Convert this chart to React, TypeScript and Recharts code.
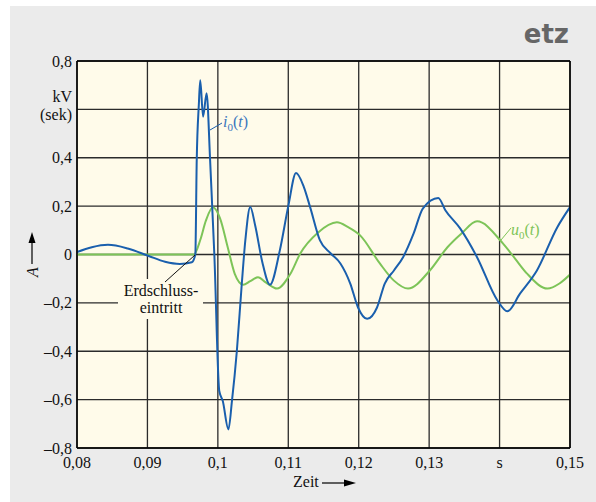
import { LineChart, Line, XAxis, YAxis, CartesianGrid } from 'recharts';

// i0(t) – Strom (blau)
const blueT = [
  0.08, 0.0821, 0.0844, 0.0872, 0.0901, 0.0925, 0.0946, 0.0963, 0.0968, 0.097,
  0.0973, 0.0975, 0.0979, 0.0984, 0.0989, 0.0992, 0.0995, 0.1002, 0.1007, 0.1015,
  0.102, 0.1027, 0.1034, 0.1039, 0.1046, 0.1053, 0.1063, 0.1074, 0.1088, 0.11,
  0.1111, 0.1122, 0.1131, 0.1145, 0.116, 0.1174, 0.1188, 0.1199, 0.1212, 0.1226,
  0.1237, 0.125, 0.1263, 0.1278, 0.1291, 0.1313, 0.1323, 0.1344, 0.1368, 0.1397,
  0.1411, 0.1429, 0.1453, 0.1482, 0.15,
];
const blueV = [
  0.01, 0.03, 0.04, 0.025, -0.005, -0.03, -0.039, -0.032, 0.0, 0.39,
  0.62, 0.72, 0.57, 0.667, 0.39, 0.196, 0.0, -0.564, -0.606, -0.723,
  -0.606, -0.398, -0.12, 0.058, 0.196, 0.12, -0.03, -0.125, 0.017, 0.2,
  0.337, 0.28, 0.196, 0.058, 0.005, -0.037, -0.12, -0.219, -0.266, -0.219,
  -0.12, -0.066, -0.011, 0.087, 0.19, 0.234, 0.183, 0.108, -0.011, -0.19,
  -0.235, -0.162, -0.066, 0.113, 0.196,
];

// u0(t) – Spannung (grün)
const greenT = [
  0.08, 0.0966, 0.0975, 0.0983, 0.0993, 0.1003, 0.1014, 0.1024, 0.1036, 0.1046,
  0.1057, 0.1068, 0.1084, 0.1103, 0.1117, 0.1142, 0.1169, 0.1185, 0.1202, 0.123,
  0.125, 0.127, 0.1301, 0.1326, 0.1346, 0.1368, 0.1405, 0.1422, 0.1439, 0.1468,
  0.1485, 0.15,
];
const greenV = [
  0, 0, 0.06, 0.14, 0.195, 0.15, 0.03, -0.08, -0.125, -0.11,
  -0.094, -0.115, -0.141, -0.08, 0.004, 0.09, 0.133, 0.113, 0.079, -0.037,
  -0.108, -0.141, -0.066, 0.03, 0.087, 0.137, 0.045, -0.017, -0.079, -0.141,
  -0.12, -0.083,
];

const xTicks = [0.08, 0.09, 0.1, 0.11, 0.12, 0.13, 0.14, 0.15];
const yTicks = [-0.8, -0.6, -0.4, -0.2, 0, 0.2, 0.4, 0.6, 0.8];

const blueData = blueT.map((t, i) => ({ t, i0: blueV[i] }));
const greenData = greenT.map((t, i) => ({ t, u0: greenV[i] }));

const serif = { fontFamily: "'Liberation Serif'" };
const BLUE = '#1a5fad';
const GREEN = '#7dc458';
const PLOT_BG = '#fffbea';

const fmt = (v: number) => {
  const s = String(+v.toFixed(2)).replace('.', ',');
  return v < 0 ? '\u2013' + s.slice(1) : s;
};

const XTick = (props: any) => {
  const { x, y, payload } = props;
  const v = payload.value;
  const label = Math.abs(v - 0.14) < 1e-9 ? 's' : fmt(v);
  return (
    <text x={x} y={y + 19.5} textAnchor="middle" style={serif} fontSize={16} fill="#111">
      {label}
    </text>
  );
};

const YTick = (props: any) => {
  const { x, y, payload } = props;
  const v = payload.value;
  if (Math.abs(v - 0.6) < 1e-9) {
    return (
      <g>
        <text x={x - 5} y={y - 7.5} textAnchor="end" style={serif} fontSize={16} fill="#111">
          kV
        </text>
        <text x={x - 5} y={y + 10.5} textAnchor="end" style={serif} fontSize={16} fill="#111">
          (sek)
        </text>
      </g>
    );
  }
  return (
    <text x={x - 5} y={y + 5.5} textAnchor="end" style={serif} fontSize={16} fill="#111">
      {fmt(v)}
    </text>
  );
};

export default function App() {
  return (
    <div style={{ position: 'absolute', left: 0, top: 0, width: 596, height: 502, background: '#fff' }}>
      <div style={{ position: 'absolute', left: 10, top: 6, width: 586, height: 496, background: '#ebebeb' }} />
      <div style={{ position: 'absolute', left: 0, top: 0 }}>
        <LineChart width={596} height={502} margin={{ top: 61, right: 26, bottom: 24, left: 17 }}>
          <CartesianGrid stroke="#2b2b2b" strokeWidth={1.3} fill={PLOT_BG} fillOpacity={1} />
          <XAxis
            dataKey="t"
            type="number"
            domain={[0.08, 0.15]}
            ticks={xTicks}
            interval={0}
            allowDataOverflow
            height={30}
            tickSize={0}
            tickMargin={0}
            tickLine={false}
            axisLine={{ stroke: '#000', strokeWidth: 1.5 }}
            tick={XTick}
          />
          <YAxis
            type="number"
            domain={[-0.8, 0.8]}
            ticks={yTicks}
            interval={0}
            allowDataOverflow
            width={60}
            tickSize={0}
            tickMargin={0}
            tickLine={false}
            axisLine={{ stroke: '#000', strokeWidth: 1.5 }}
            tick={YTick}
          />
          <Line
            data={greenData}
            dataKey="u0"
            type="monotone"
            stroke={GREEN}
            strokeWidth={2}
            dot={false}
            isAnimationActive={false}
          />
          <Line
            data={blueData}
            dataKey="i0"
            type="monotone"
            stroke={BLUE}
            strokeWidth={2}
            dot={false}
            isAnimationActive={false}
          />
        </LineChart>
      </div>
      <svg
        width={596}
        height={502}
        style={{ position: 'absolute', left: 0, top: 0, pointerEvents: 'none' }}
      >
        {/* top and right border of plot */}
        <line x1={77} y1={61} x2={570} y2={61} stroke="#000" strokeWidth={1.5} />
        <line x1={570} y1={61} x2={570} y2={448} stroke="#000" strokeWidth={1.5} />

        {/* logo */}
        <text
          x={569}
          y={43}
          textAnchor="end"
          style={{ fontFamily: "'DejaVu Sans'" }}
          fontWeight="bold"
          fontSize={26}
          fill="#666"
        >
          etz
        </text>

        {/* Erdschluss annotation */}
        <rect x={118} y={279} width={85} height={40} fill={PLOT_BG} />
        <line x1={195} y1={255} x2={165} y2={282} stroke="#111" strokeWidth={1} />
        <text x={161} y={296} textAnchor="middle" style={serif} fontSize={16} fill="#111">
          Erdschluss-
        </text>
        <text x={161} y={313} textAnchor="middle" style={serif} fontSize={16} fill="#111">
          eintritt
        </text>

        {/* i0(t) label */}
        <line x1={210} y1={130} x2={222} y2={123} stroke={BLUE} strokeWidth={1} />
        <text x={223} y={127} style={serif} fontSize={16} fill="#3a76bd">
          <tspan fontStyle="italic">i</tspan>
          <tspan fontSize={11} dy={4}>0</tspan>
          <tspan dy={-4}>(</tspan>
          <tspan fontStyle="italic">t</tspan>
          <tspan>)</tspan>
        </text>

        {/* u0(t) label */}
        <line x1={501} y1={240} x2={511} y2={228} stroke={GREEN} strokeWidth={1} />
        <text x={511} y={235} style={serif} fontSize={16} fill={GREEN}>
          <tspan fontStyle="italic">u</tspan>
          <tspan fontSize={11} dy={4}>0</tspan>
          <tspan dy={-4}>(</tspan>
          <tspan fontStyle="italic">t</tspan>
          <tspan>)</tspan>
        </text>

        {/* y-axis label A with arrow */}
        <line x1={32} y1={264} x2={32} y2={242} stroke="#000" strokeWidth={1.2} />
        <polygon points="28.5,243 35.5,243 32,232" fill="#000" />
        <text
          transform="translate(38,272) rotate(-90)"
          textAnchor="middle"
          style={serif}
          fontStyle="italic"
          fontSize={16}
          fill="#111"
        >
          A
        </text>

        {/* x-axis label Zeit with arrow */}
        <text x={293} y={487} style={serif} fontSize={16} fill="#111">
          Zeit
        </text>
        <line x1={322} y1={483} x2={346} y2={483} stroke="#000" strokeWidth={1.2} />
        <polygon points="344,479.5 344,486.5 356,483" fill="#000" />
      </svg>
    </div>
  );
}
